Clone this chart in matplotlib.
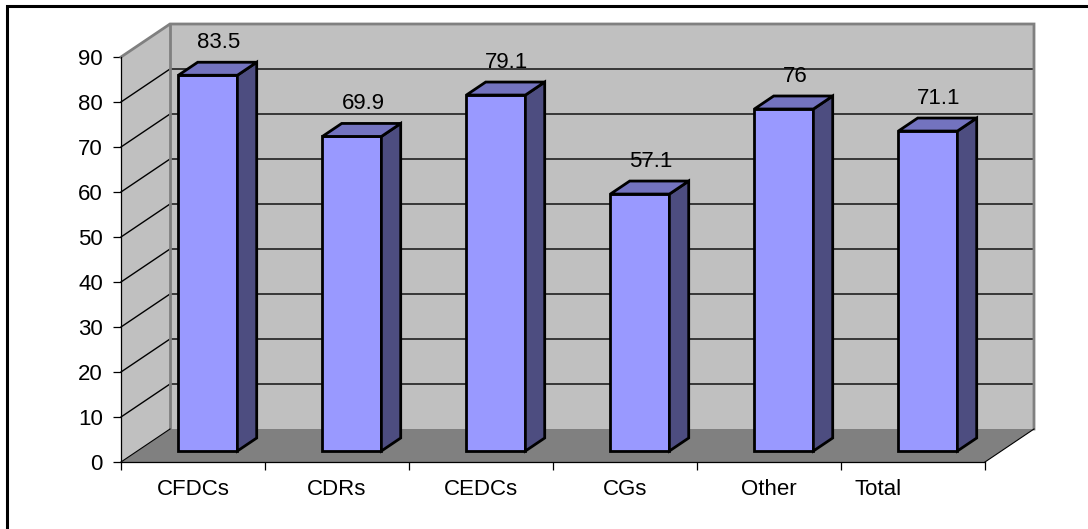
import matplotlib
matplotlib.use("Agg")
import matplotlib.pyplot as plt
from matplotlib.patches import Polygon, Rectangle
import numpy as np

categories = ["CFDCs", "CDRs", "CEDCs", "CGs", "Other", "Total"]
values = [83.5, 69.9, 79.1, 57.1, 76, 71.1]
value_labels = ["83.5", "69.9", "79.1", "57.1", "76", "71.1"]
yticks = list(range(0, 91, 10))

W, H, DPI = 1088, 529, 100
fig = plt.figure(figsize=(W / DPI, H / DPI), dpi=DPI)
fig.patch.set_facecolor("white")

# outer frame (right and bottom sides fall outside the canvas)
fig.add_artist(Rectangle((7 / W, -0.1), 1.2, 1 - 6 / H + 0.1,
                         transform=fig.transFigure, fill=False,
                         edgecolor="black", linewidth=2.2))

# front plane of the 3-D box in pixels
left_px, right_px, base_px, top_px = 121, 985, 462, 57
ax = fig.add_axes([left_px / W, (H - base_px) / H,
                   (right_px - left_px) / W, (base_px - top_px) / H])
n = len(categories)
vmax = 90
ax.set_xlim(0, n)
ax.set_ylim(0, vmax)
ax.patch.set_visible(False)

# oblique depth offset for the full depth (in data units)
px_per_x = (right_px - left_px) / n
px_per_v = (base_px - top_px) / vmax
DX = 49 / px_per_x
DV = 33 / px_per_v

FONT = dict(fontsize=16, family="Liberation Sans")


def proj(x, v, d):
    return (x + d * DX, v + d * DV)


def face(pts, fc, ec, lw, z):
    poly = Polygon([proj(*p) for p in pts], closed=True, facecolor=fc,
                   edgecolor=ec, linewidth=lw, zorder=z, clip_on=False,
                   joinstyle="miter")
    ax.add_patch(poly)


wall = "#C0C0C0"
floor = "#808080"
# back wall, side wall, floor
face([(0, 0, 1), (n, 0, 1), (n, vmax, 1), (0, vmax, 1)], wall, "none", 0, 1)
face([(0, 0, 0), (0, vmax, 0), (0, vmax, 1), (0, 0, 1)], wall, "none", 0, 1)
face([(0, 0, 0), (n, 0, 0), (n, 0, 1), (0, 0, 1)], floor, "none", 0, 1)

# gridlines on the walls
for v in yticks[1:-1]:
    xs, ys = zip(proj(0, v, 0), proj(0, v, 1), proj(n, v, 1))
    ax.plot(xs, ys, color="black", lw=1.0, zorder=2, clip_on=False)

# wall outlines
xs, ys = zip(proj(0, vmax, 0), proj(0, vmax, 1), proj(n, vmax, 1),
             proj(n, 0, 1))
ax.plot(xs, ys, color="#808080", lw=2.0, zorder=2, clip_on=False,
        solid_joinstyle="miter")
xs, ys = zip(proj(0, vmax, 1), proj(0, 0, 1))
ax.plot(xs, ys, color="#808080", lw=2.0, zorder=2, clip_on=False)
xs, ys = zip(proj(0, 0, 0), proj(0, 0, 1))
ax.plot(xs, ys, color="black", lw=0.8, zorder=2, clip_on=False)
xs, ys = zip(proj(n, 0, 0), proj(n, 0, 1))
ax.plot(xs, ys, color="black", lw=0.8, zorder=2, clip_on=False)

# bars
bar_w = 59 / px_per_x
d0, d1 = 1 / 3, 1 / 3 + 13 / 33
front_c, side_c, top_c = "#9999FF", "#4D4D80", "#7373BF"
for i, v in enumerate(values):
    x0 = i + 0.5 - bar_w / 2 - 0.01
    x1 = x0 + bar_w
    face([(x0, 0, d0), (x1, 0, d0), (x1, v, d0), (x0, v, d0)],
         front_c, "black", 2.0, 5)
    face([(x1, 0, d0), (x1, 0, d1), (x1, v, d1), (x1, v, d0)],
         side_c, "black", 2.0, 5)
    face([(x0, v, d0), (x1, v, d0), (x1, v, d1), (x0, v, d1)],
         top_c, "black", 2.0, 5)
    dm = (d0 + d1) / 2
    ax.annotate(value_labels[i], proj(i + 0.5, v, dm),
                xytext=(0, 19), textcoords="offset points",
                ha="center", va="center", zorder=6,
                annotation_clip=False, **FONT)

# axes: front vertical and bottom lines with outward ticks
for s in ["top", "right"]:
    ax.spines[s].set_visible(False)
for s in ["left", "bottom"]:
    ax.spines[s].set_color("black")
    ax.spines[s].set_linewidth(0.9)
    ax.spines[s].set_zorder(3)
ax.set_yticks(yticks)
ax.set_yticklabels([str(t) for t in yticks], **FONT)
ax.tick_params(axis="y", direction="out", length=6, width=0.9,
               pad=7, colors="black")
ax.set_xticks(np.arange(n + 1))
ax.set_xticklabels([])
ax.tick_params(axis="x", direction="out", length=6, width=0.9,
               colors="black")

label_x = np.arange(n) + 0.5
label_x[-1] -= 0.24
for x, c in zip(label_x, categories):
    ax.annotate(c, (x, 0), xytext=(0, -20), textcoords="offset points",
                ha="center", va="center", annotation_clip=False, **FONT)

fig.savefig("out.png", dpi=DPI)
